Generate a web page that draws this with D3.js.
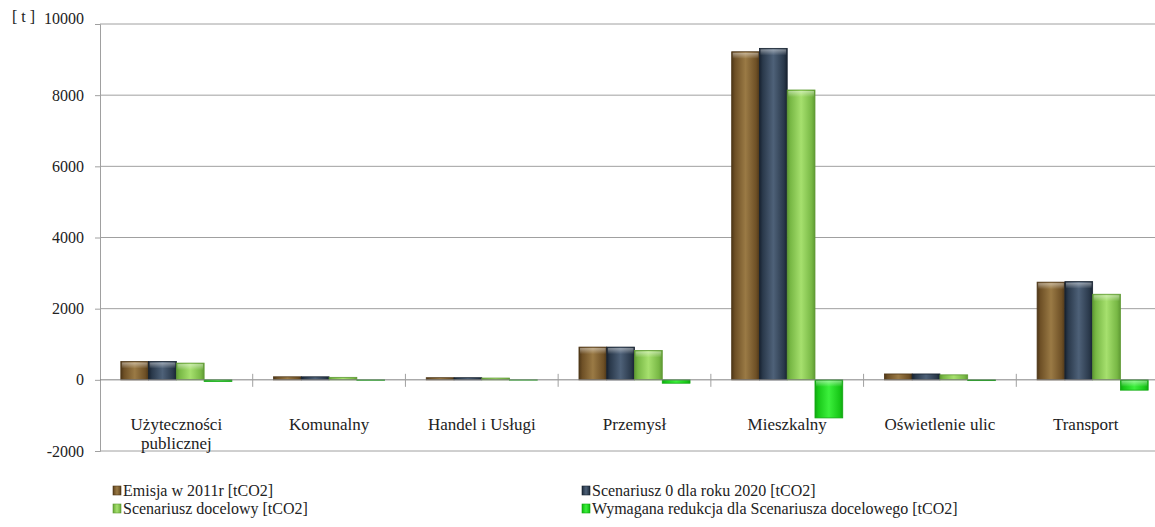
<!DOCTYPE html>
<html><head><meta charset="utf-8">
<script src="https://cdn.jsdelivr.net/npm/d3@7/dist/d3.min.js"></script>
<style>body{margin:0;background:#fff}svg{display:block}text{font-family:"Liberation Serif","DejaVu Serif",serif}</style>
</head><body><svg id="c" width="1155" height="527"></svg>
<script>
const categories = ["Użyteczności publicznej","Komunalny","Handel i Usługi","Przemysł","Mieszkalny","Oświetlenie ulic","Transport"];
const seriesNames = ["Emisja w 2011r [tCO2]","Scenariusz 0 dla roku 2020 [tCO2]","Scenariusz docelowy [tCO2]","Wymagana redukcja dla Scenariusza docelowego [tCO2]"];
const emisja2011 = [515, 85, 60, 920, 9220, 165, 2745];
const scenariusz0 = [515, 85, 60, 920, 9315, 165, 2760];
const docelowy = [470, 70, 50, 825, 8145, 140, 2405];
const redukcja = [-45, -12, -8, -95, -1070, -22, -290];
const yTicks = [-2000, 0, 2000, 4000, 6000, 8000, 10000];
const colors = [["#4e3718","#9a7a45","#6e5026"],["#172230","#4e6178","#2a394b"],["#5f9a33","#a6e06e","#78b845"],["#10a810","#3cf03c","#18c818"]];
const seriesData = [emisja2011, scenariusz0, docelowy, redukcja];

const svg = d3.select("#c");
const x0 = 100, x1 = 1169, yTop = 24, yBot = 451;
const y = d3.scaleLinear().domain([-2000, 10000]).range([yBot, yTop]);
const xc = d3.scaleBand().domain(categories).range([x0, x1]).paddingInner(0).paddingOuter(0);
const inner = d3.scaleBand().domain(d3.range(4)).range([0, xc.bandwidth()]).paddingInner(0).paddingOuter(0.75);

const defs = svg.append("defs");
colors.forEach((c,i)=>{
  const g = defs.append("linearGradient").attr("id","g"+i).attr("x1","0").attr("x2","1").attr("y1","0").attr("y2","0");
  g.append("stop").attr("offset","0").attr("stop-color",c[0]);
  g.append("stop").attr("offset","0.12").attr("stop-color",c[2]);
  g.append("stop").attr("offset","0.5").attr("stop-color",c[1]);
  g.append("stop").attr("offset","0.88").attr("stop-color",c[2]);
  g.append("stop").attr("offset","1").attr("stop-color",c[0]);
});
const tg = defs.append("linearGradient").attr("id","top").attr("x1","0").attr("x2","0").attr("y1","0").attr("y2","1");
tg.append("stop").attr("offset","0").attr("stop-color","#fff").attr("stop-opacity",0.45);
tg.append("stop").attr("offset","1").attr("stop-color","#fff").attr("stop-opacity",0);

// gridlines
svg.append("g").selectAll("line").data(yTicks.filter(t=>t!==0)).join("line")
  .attr("x1", x0).attr("x2", 1155).attr("y1", d=>y(d)).attr("y2", d=>y(d))
  .attr("stroke","#a0a0a0").attr("stroke-width",1);

// y axis
const ya = svg.append("g").attr("transform",`translate(${x0},0)`)
  .call(d3.axisLeft(y).tickValues(yTicks).tickSize(5).tickFormat(d=>String(d)));
ya.attr("font-family","'Liberation Serif', serif");
ya.select(".domain").attr("stroke","#a0a0a0");
ya.selectAll(".tick line").attr("stroke","#a0a0a0");
ya.selectAll("text").attr("font-size",16).attr("fill","#222").attr("dx",-8)
  .attr("dy", d=> d===10000 ? "-0.05em" : "0.32em");
svg.append("text").attr("x",12).attr("y",y(10000)-2).attr("font-size",16).attr("fill","#222").text("[ t ]");

// bars
const groups = svg.append("g").selectAll("g").data(categories).join("g")
  .attr("transform", d=>`translate(${xc(d)},0)`);
seriesData.forEach((arr,si)=>{
  groups.each(function(c,ci){
    const v = arr[ci];
    const bx = inner(si), bw = inner.bandwidth();
    const top = y(Math.max(0,v)), h = Math.abs(y(v)-y(0));
    const g = d3.select(this);
    g.append("rect").attr("x",bx).attr("y",top).attr("width",bw).attr("height",h)
      .attr("fill",`url(#g${si})`).attr("stroke",colors[si][0]).attr("stroke-width",0.8);
    if (h > 6) {
      g.append("rect").attr("x",bx+1).attr("y",top+1).attr("width",bw-2).attr("height",Math.min(6,h-2))
        .attr("fill","url(#top)");
    }
  });
});

// x axis at zero
svg.append("line").attr("x1",x0).attr("x2",1155).attr("y1",y(0)).attr("y2",y(0)).attr("stroke","#808080");
svg.append("g").selectAll("line").data(categories.slice(1)).join("line")
  .attr("x1",d=>xc(d)).attr("x2",d=>xc(d)).attr("y1",y(0)-6).attr("y2",y(0)+7).attr("stroke","#a0a0a0");

// category labels
const lab = svg.append("g").selectAll("text").data(categories).join("text")
  .attr("x", d=>xc(d)+xc.bandwidth()/2 - (d==="Transport"?7:0)).attr("y",430)
  .attr("text-anchor","middle").attr("font-size",17).attr("fill","#222");
lab.each(function(d){
  const t = d3.select(this);
  if (d==="Użyteczności publicznej"){
    t.append("tspan").attr("x",xc(d)+xc.bandwidth()/2).text("Użyteczności");
    t.append("tspan").attr("x",xc(d)+xc.bandwidth()/2).attr("dy",19).text("publicznej");
  } else t.text(d);
});

// legend
const legPos = [[113,491],[582,491],[113,509],[582,509]];
seriesNames.forEach((n,i)=>{
  const g = svg.append("g").attr("transform",`translate(${legPos[i][0]},${legPos[i][1]})`);
  g.append("rect").attr("x",0).attr("y",-5).attr("width",8).attr("height",9).attr("fill",`url(#g${i})`).attr("stroke",colors[i][0]).attr("stroke-width",0.6);
  g.append("text").attr("x",10).attr("y",5).attr("font-size",16).attr("fill","#222").text(n);
});
</script></body></html>
